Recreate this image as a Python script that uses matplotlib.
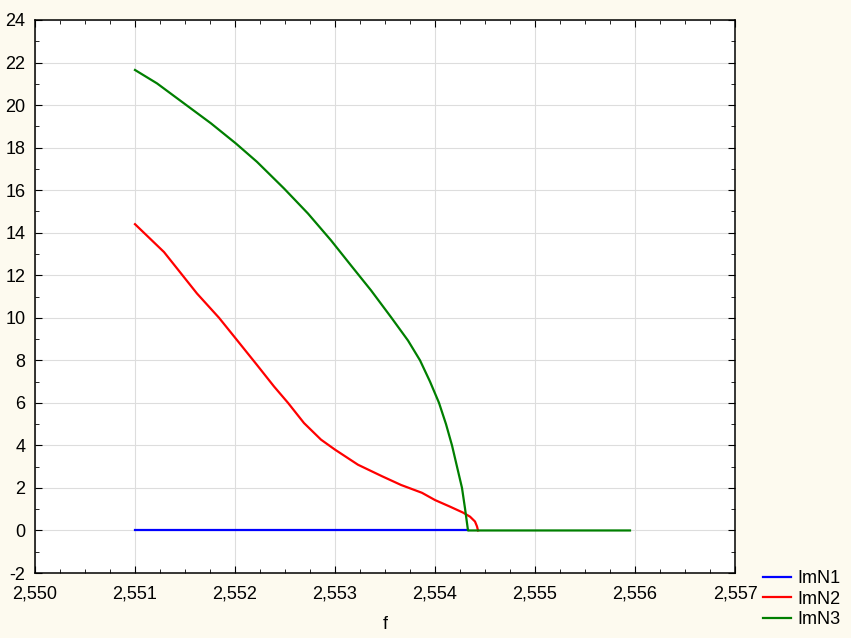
import matplotlib
matplotlib.use("Agg")
import matplotlib.pyplot as plt
from matplotlib.ticker import MultipleLocator, FuncFormatter

plt.rcParams["font.family"] = ["Liberation Sans", "DejaVu Sans"]

# ImN1: flat zero line
f_n1 = [2.5510, 2.55433]
imn1 = [0.0, 0.0]

# ImN2 (red)
f_n2 = [2.5510, 2.55129, 2.55162, 2.55184, 2.55202, 2.55222, 2.55239, 2.55253,
        2.55269, 2.55286, 2.5530, 2.55323, 2.55347, 2.55366, 2.55387, 2.5540,
        2.55415, 2.55428, 2.55435, 2.5544, 2.55442, 2.55443]
imn2 = [14.4, 13.09, 11.14, 10.0, 8.95, 7.78, 6.77, 6.0,
        5.05, 4.27, 3.8, 3.09, 2.55, 2.14, 1.77, 1.43,
        1.12, 0.84, 0.65, 0.42, 0.19, 0.0]

# ImN3 (green)
f_n3 = [2.5510, 2.55122, 2.55149, 2.55176, 2.55201, 2.55222, 2.55249, 2.55273,
        2.55296, 2.55316, 2.55336, 2.55356, 2.55373, 2.55385, 2.55395, 2.55404,
        2.55411, 2.55417, 2.55422, 2.55427, 2.5543, 2.55433, 2.5550, 2.55595]
imn3 = [21.65, 21.02, 20.08, 19.14, 18.19, 17.33, 16.08, 14.9,
        13.64, 12.46, 11.29, 10.03, 8.93, 8.0, 7.0, 6.0,
        5.0, 4.0, 3.0, 2.0, 1.04, 0.0, 0.0, 0.0]

fig = plt.figure(figsize=(8.51, 6.38), dpi=100)
fig.patch.set_facecolor("#fdfaef")
ax = fig.add_axes([35 / 851, 1 - 573 / 638, 700 / 851, 553 / 638])
ax.set_facecolor("white")

line_kw = dict(lw=1.6, solid_joinstyle="round")
ax.plot(f_n1, imn1, color="#0000ff", label="ImN1", **line_kw)
ax.plot(f_n2, imn2, color="#ff0000", label="ImN2", **line_kw)
ax.plot(f_n3, imn3, color="#007f00", label="ImN3", **line_kw)

ax.set_xlim(2.550, 2.557)
ax.set_ylim(-2, 24)
ax.xaxis.set_major_locator(MultipleLocator(0.001))
ax.xaxis.set_minor_locator(MultipleLocator(0.00025))
ax.yaxis.set_major_locator(MultipleLocator(2))
ax.yaxis.set_minor_locator(MultipleLocator(1))
ax.xaxis.set_major_formatter(FuncFormatter(lambda v, p: f"{v:.3f}".replace(".", ",")))
ax.yaxis.set_major_formatter(FuncFormatter(lambda v, p: f"{v:.0f}"))

ax.tick_params(which="both", direction="in", top=True, right=True, labelsize=13)
ax.tick_params(which="major", length=5)
ax.tick_params(which="minor", length=3)
ax.tick_params(axis="x", which="major", pad=9)
ax.tick_params(axis="y", which="major", pad=7)
ax.grid(True, which="major", color="#dddddd", lw=0.8)
ax.set_axisbelow(True)
for s in ax.spines.values():
    s.set_linewidth(1.1)

ax.set_xlabel("f", fontsize=13, labelpad=9.5)

fig.legend(loc="center left", bbox_to_anchor=(754 / 851, 1 - 599 / 638),
           frameon=False, fontsize=13, handlelength=1.55, handletextpad=0.35,
           labelspacing=0.2, borderpad=0)

fig.savefig("out.png", dpi=100, facecolor=fig.get_facecolor())
